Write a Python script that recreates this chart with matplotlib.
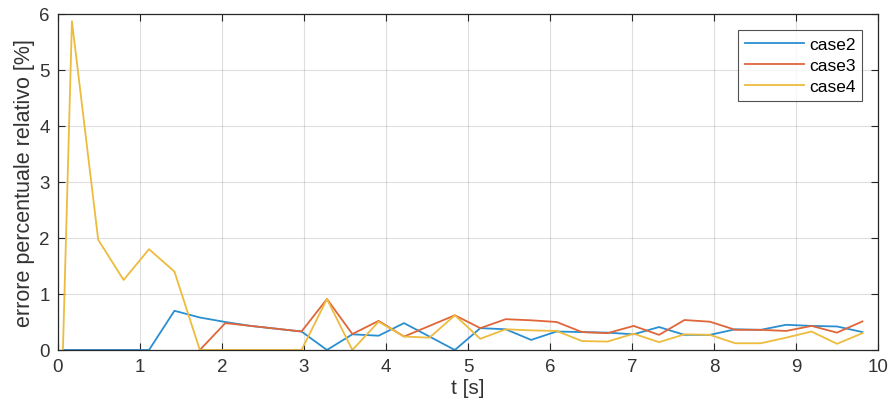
import numpy as np
import matplotlib
matplotlib.use("Agg")
import matplotlib.pyplot as plt

plt.rcParams['font.family'] = ['Liberation Sans', 'DejaVu Sans']

# time samples [s]
t = [0.06, 0.17, 0.49, 0.80, 1.11, 1.42, 1.73, 2.04, 2.35, 2.66, 2.97,
     3.28, 3.59, 3.91, 4.22, 4.53, 4.84, 5.15, 5.46, 5.77, 6.08, 6.39,
     6.70, 7.02, 7.33, 7.64, 7.95, 8.26, 8.57, 8.88, 9.19, 9.50, 9.81]

case2 = [0, 0, 0, 0, 0, 0.70, 0.58, 0.50, 0.43, 0.38, 0.33,
         0, 0.28, 0.255, 0.48, 0.24, 0, 0.39, 0.37, 0.18, 0.33, 0.32,
         0.31, 0.28, 0.41, 0.27, 0.27, 0.37, 0.36, 0.45, 0.43, 0.42, 0.32]

case3 = [np.nan, np.nan, np.nan, np.nan, np.nan, np.nan, 0, 0.48, 0.43, 0.38, 0.33,
         0.91, 0.285, 0.52, 0.24, 0.43, 0.62, 0.39, 0.55, 0.53, 0.50, 0.32,
         0.30, 0.43, 0.27, 0.535, 0.505, 0.36, 0.36, 0.34, 0.43, 0.31, 0.51]

case4 = [0, 5.87, 1.97, 1.25, 1.80, 1.40, 0, 0, 0, 0, 0,
         0.91, 0, 0.505, 0.24, 0.22, 0.62, 0.20, 0.37, 0.35, 0.34, 0.16,
         0.15, 0.29, 0.14, 0.28, 0.27, 0.12, 0.12, 0.22, 0.33, 0.11, 0.30]

fig = plt.figure(figsize=(8.95, 4.14), dpi=100)
ax = fig.add_axes([0.0648, 0.1522, 0.9162, 0.8116])

ax.plot(t, case2, color='#2A8FD0', lw=1.3, label='case2')
ax.plot(t, case3, color='#E0663A', lw=1.3, label='case3')
ax.plot(t, case4, color='#EDBB3E', lw=1.3, label='case4')

ax.set_xlim(0, 10)
ax.set_ylim(0, 6)
ax.set_xticks(range(0, 11))
ax.set_yticks(range(0, 7))
ax.grid(True, color='#262626', alpha=0.15, lw=0.8)
ax.tick_params(direction='in', top=True, right=True, length=5, pad=6,
               labelsize=13.5, colors='#262626', labelcolor='#333333')
for s in ax.spines.values():
    s.set_color('#262626')
    s.set_linewidth(0.9)

ax.set_xlabel('t [s]', fontsize=15, color='#333333', labelpad=2)
ax.set_ylabel('errore percentuale relativo [%]', fontsize=15.5, color='#333333', labelpad=3)

leg = ax.legend(loc='upper right', fontsize=12.5, fancybox=False,
                edgecolor='#262626', handlelength=3.4, borderaxespad=0.9,
                labelspacing=0.35, handletextpad=0.3, borderpad=0.4)
leg.get_frame().set_linewidth(0.8)

fig.savefig('out.png', dpi=100)
